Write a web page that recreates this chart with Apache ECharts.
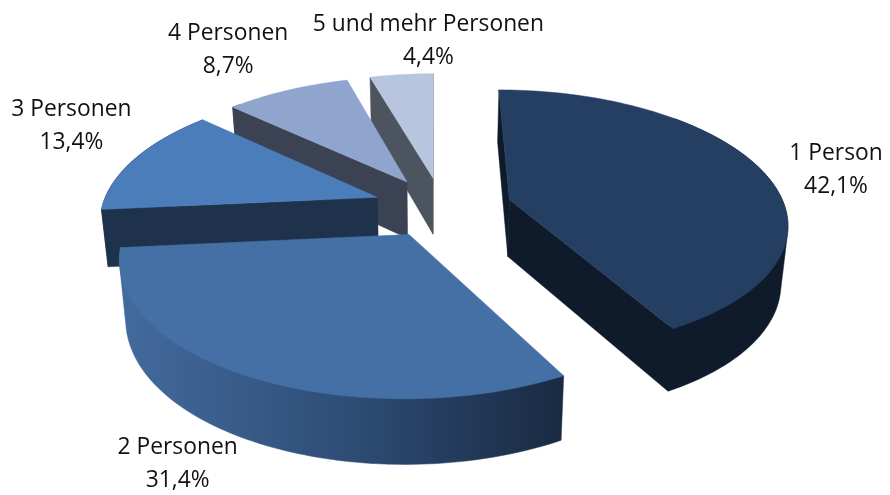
<!DOCTYPE html>
<html>
<head>
<meta charset="utf-8">
<title>Haushalte nach Personenzahl</title>
<script src="https://cdn.jsdelivr.net/npm/echarts@6/dist/echarts.min.js"></script>
<style>
  html, body { margin: 0; padding: 0; background: #fff; }
  #chart { width: 890px; height: 495px; }
</style>
</head>
<body>
<div id="chart"></div>
<script>
const categories = ['1 Person', '2 Personen', '3 Personen', '4 Personen', '5 und mehr Personen'];
const shares = [42.1, 31.4, 13.4, 8.7, 4.4];

const topColors = ['#253f62', '#4570a6', '#4a7dba', '#8fa5cd', '#b7c5de'];
const wallColors = ['#0f1b2b', '#1b2e49', '#1e324c', '#3b4254', '#4c555f'];
const labelOffsets = [[75, 0], [-70, 88], [-63.5, -32.5], [-59, -40.5], [27, -34]];

// Perspective set up by hand to sit on the picture: vanishing point, pie radius,
// how far each slice is pulled out along its bisector, and the pie thickness.
const vanishX = 433.5, vanishY = -617, planeDist = 817, lensX = 1850, lensY = 1900;
const radiusX = 273, radiusY = 295, explode = 69, centerX = 9, centerY = -16;
const depth = 57, bottomShrink = 0.98;

const total = shares.reduce((a, b) => a + b, 0);

function project(x, y, low) {
    const sx = 1 / (1 + y / lensX);
    const sy = 1 / (1 + y / lensY);
    let px = vanishX + x * sx;
    let py = vanishY + planeDist * sy;
    if (low) {
        px = vanishX + (px - vanishX) * bottomShrink;
        py += depth * (1 + (sx - 1) * 0.6);
    }
    return [px, py];
}

function sliceAngles(index) {
    const before = shares.slice(0, index).reduce((a, b) => a + b, 0);
    return [before / total * 360, (before + shares[index]) / total * 360];
}

function sliceOrigin(index) {
    const [start, end] = sliceAngles(index);
    const mid = (start + end) / 2 * Math.PI / 180;
    return [centerX + explode * Math.sin(mid), centerY + explode * Math.cos(mid)];
}

function rimPoint(index, deg, low) {
    const o = sliceOrigin(index);
    const a = deg * Math.PI / 180;
    return project(o[0] + radiusX * Math.sin(a), o[1] + radiusY * Math.cos(a), low);
}

function arcPoints(index, from, to, low) {
    const pts = [];
    const steps = Math.max(2, Math.ceil((to - from) / 1.5));
    for (let i = 0; i <= steps; i++) {
        pts.push(rimPoint(index, from + (to - from) * i / steps, low));
    }
    return pts;
}

function area(pts) {
    let sum = 0;
    pts.forEach((p, i) => {
        const q = pts[(i + 1) % pts.length];
        sum += p[0] * q[1] - q[0] * p[1];
    });
    return sum / 2;
}

// Outline of the swept wall, so its silhouette has no notch at the sides.
function hull(points) {
    const pts = points.slice().sort((a, b) => a[0] - b[0] || a[1] - b[1]);
    const cross = (o, a, b) => (a[0] - o[0]) * (b[1] - o[1]) - (a[1] - o[1]) * (b[0] - o[0]);
    const half = list => {
        const out = [];
        list.forEach(p => {
            while (out.length > 1 && cross(out[out.length - 2], out[out.length - 1], p) <= 0) out.pop();
            out.push(p);
        });
        out.pop();
        return out;
    };
    return half(pts).concat(half(pts.slice().reverse()));
}

function wallFill(index) {
    if (index !== 1) return wallColors[index];
    return {
        type: 'linear', x: 0, y: 0, x2: 1, y2: 0,
        colorStops: [
            { offset: 0, color: '#436b9e' },
            { offset: 0.5, color: '#2f4e77' },
            { offset: 1, color: '#192a42' }
        ]
    };
}

function renderSlice(params, api) {
    const i = params.dataIndex;
    const [start, end] = sliceAngles(i);
    const o = sliceOrigin(i);
    const base = (shares.length - i) * 10;
    const children = [];

    function poly(points, fill, z) {
        children.push({
            type: 'polygon',
            z2: base + z,
            shape: { points: points },
            style: { fill: fill, stroke: fill, lineWidth: 0.5 }
        });
    }

    const apex = project(o[0], o[1], false);
    const apexLow = project(o[0], o[1], true);

    // outer wall, the top face covers whatever is not visible
    const from = Math.max(start, 45), to = Math.min(end, 315);
    if (to > from) {
        const upper = arcPoints(i, from, to, false);
        const lower = arcPoints(i, from, to, true);
        poly(hull(upper.concat(lower)), wallFill(i), 1);
    }

    // the two cut faces, dropped when they turn away from the viewer
    const startWall = [apex, rimPoint(i, start, false), rimPoint(i, start, true), apexLow];
    if (area(startWall) < 0) poly(startWall, wallColors[i], 2);
    const endWall = [apex, rimPoint(i, end, false), rimPoint(i, end, true), apexLow];
    if (area(endWall) > 0) poly(endWall, wallColors[i], 2);

    // top face
    poly([apex].concat(arcPoints(i, start, end, false)), topColors[i], 3);

    // label
    const mid = rimPoint(i, (start + end) / 2, false);
    children.push({
        type: 'text',
        z2: 200,
        x: mid[0] + labelOffsets[i][0],
        y: mid[1] + labelOffsets[i][1],
        style: {
            text: categories[i] + '\n' + api.value(0).toFixed(1).replace('.', ',') + '%',
            fill: '#111111',
            font: '22.8px "Open Sans", sans-serif',
            lineHeight: 33,
            align: 'center',
            verticalAlign: 'middle'
        }
    });

    return { type: 'group', children: children };
}

const chart = echarts.init(document.getElementById('chart'));
chart.setOption({
    animation: false,
    backgroundColor: '#ffffff',
    series: [{
        type: 'custom',
        coordinateSystem: 'none',
        renderItem: renderSlice,
        silent: true,
        data: shares.map(v => [v])
    }]
});
</script>
</body>
</html>
